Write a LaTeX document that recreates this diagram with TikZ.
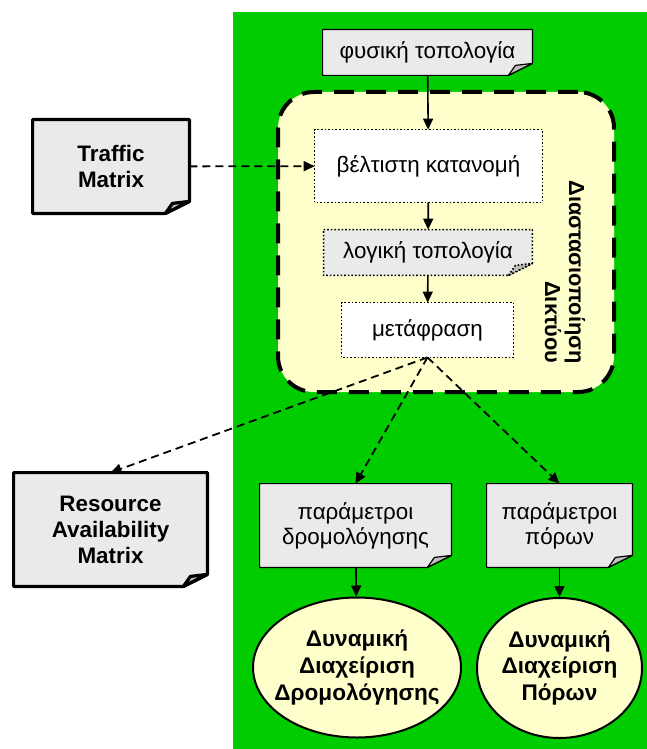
\documentclass[tikz,border=0pt]{standalone}
\usepackage{fontspec}
\setmainfont{Liberation Sans}
\usetikzlibrary{arrows.meta,backgrounds,shapes.geometric}
\definecolor{bggreen}{RGB}{0,204,0}
\definecolor{cream}{RGB}{255,255,204}
\definecolor{docgray}{RGB}{234,234,234}
\definecolor{foldgray}{RGB}{190,190,190}
\tikzset{
  txt/.style={inner sep=0pt, align=center, font=\fontsize{11.2}{12.6}\selectfont},
  bold/.style={txt, font=\fontsize{11.2}{13}\selectfont\bfseries},
  big/.style={txt, font=\fontsize{11.3}{13.3}\selectfont\bfseries},
  tip/.style={-{Triangle[length=5.5pt,width=5pt]}},
  flow/.style={tip, line width=0.8pt},
  feed/.style={tip, line width=0.9pt, dash pattern=on 4pt off 2.5pt},
  dots/.style={line width=0.8pt, densely dotted},
  ell/.style={shape=ellipse, draw=black, line width=1pt, fill=cream, inner xsep=-14pt, inner ysep=-2pt},
}
% document shape with folded corner
\newcommand{\docframe}[2][]{%
  \filldraw[fill=docgray,line join=round,#1] (#2.north west) -- (#2.north east) -- ([yshift=6pt]#2.south east)
    -- ([xshift=-12pt]#2.south east) -- (#2.south west) -- cycle;
  \filldraw[fill=foldgray,line join=round,#1] ([xshift=-12pt]#2.south east) -- ([xshift=-8.5pt,yshift=5pt]#2.south east)
    -- ([yshift=6pt]#2.south east) -- cycle;}
\begin{document}
\begin{tikzpicture}[x=0.5pt,y=-0.5pt]
\useasboundingbox (0,0) rectangle (647,749);
% inner boxes
\node[txt, minimum width=104.5pt, minimum height=22.5pt] (fys) at (427.5,52.5) {φυσική τοπολογία};
\node[txt, minimum width=113.5pt, minimum height=36pt] (opt) at (428.5,166) {βέλτιστη κατανομή};
\node[txt, minimum width=104pt, minimum height=22.5pt] (log) at (428,252.5) {λογική τοπολογία};
\node[txt, minimum width=85.5pt, minimum height=27pt] (met) at (427.5,330) {μετάφραση};
\node[txt, font=\fontsize{10.9}{12}\selectfont\bfseries, rotate=-90, align=right] (dim) at (565,272) {Διαστασιοποίηση\\Δικτύου};
% matrices
\node[bold, minimum width=78pt, minimum height=46.5pt] (trm) at (111,166.5) {Traffic\\Matrix};
\node[bold, minimum width=96.5pt, minimum height=56.5pt] (ram) at (110.5,529.5) {Resource\\Availability\\Matrix};
% parameters
\node[txt, minimum width=95.5pt, minimum height=41.5pt] (prd) at (355.5,525.5) {παράμετροι\\δρομολόγησης};
\node[txt, minimum width=72.5pt, minimum height=41.5pt] (prp) at (559.5,525.5) {παράμετροι\\πόρων};
% management
\node[ell, minimum width=104pt, minimum height=70pt] (edr) at (357,667.5) {};
\node[big] at (edr) {Δυναμική\\Διαχείριση\\Δρομολόγησης};
\node[ell, minimum width=82.5pt, minimum height=70pt] (epr) at (559.5,668) {};
\node[big] at (epr) {Δυναμική\\Διαχείριση\\Πόρων};
\begin{scope}[on background layer]
\fill[bggreen] (233,12) rectangle (647,749);
\node[draw=black, fill=cream, line width=2pt, dash pattern=on 10pt off 6pt, rounded corners=18pt,
  minimum width=168pt, minimum height=150pt] (net) at (446,242) {};
\docframe[line width=0.6pt]{fys}
\filldraw[fill=white, dots] (opt.south west) rectangle (opt.north east);
\docframe[dots]{log}
\filldraw[fill=white, dots] (met.south west) rectangle (met.north east);
\docframe[line width=1.6pt]{trm}
\docframe[line width=1.6pt]{ram}
\docframe[line width=0.6pt]{prd}
\docframe[line width=0.6pt]{prp}
\end{scope}
\draw[flow] (fys) -- (opt);
\draw[flow] (opt) -- (log);
\draw[flow] (log) -- (met);
\draw[feed] (trm) -- (opt);
\draw[feed] (met.south) -- (ram.north);
\draw[feed] (met.south) -- (prd.north);
\draw[feed] (met.south) -- (prp.north);
\draw[flow] (prd) -- (edr);
\draw[flow] (prp) -- (epr);
\end{tikzpicture}
\end{document}
